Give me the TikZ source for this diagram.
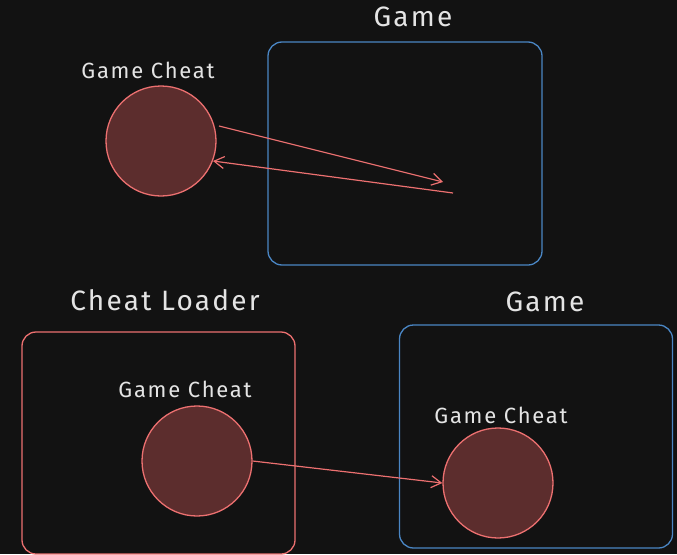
\documentclass[tikz,border=0pt]{standalone}
\usepackage{fontspec}
\setmainfont{Fira Sans}
\newfontfamily\labelfont[LetterSpace=8]{Fira Sans}
\usetikzlibrary{arrows.meta}
\definecolor{bgdark}{RGB}{18,18,18}
\definecolor{boxblue}{RGB}{74,134,196}
\definecolor{cheatred}{RGB}{236,112,112}
\definecolor{cheatfill}{RGB}{92,45,45}
\definecolor{labelgrey}{RGB}{228,228,228}
\tikzset{
  region/.style={draw, line width=1.3pt, rounded corners=14pt},
  gamebox/.style={region, draw=boxblue},
  loaderbox/.style={region, draw=cheatred},
  cheat/.style={circle, draw=cheatred, fill=cheatfill, line width=1.3pt,
    minimum size=110pt, inner sep=0pt},
  label/.style={text=labelgrey, font=\labelfont\fontsize{22}{24}\selectfont, inner sep=0pt},
  biglabel/.style={text=labelgrey, font=\labelfont\fontsize{28}{30}\selectfont, inner sep=0pt},
  flow/.style={draw=cheatred, line width=1.2pt,
    -{Straight Barb[length=10pt,width=12pt,line width=1.2pt]}},
}
\begin{document}
\begin{tikzpicture}[x=1pt,y=-1pt]
  \fill[bgdark] (0,0) rectangle (677,554);
  \useasboundingbox (0,0) rectangle (677,554);

  % top: cheat talking to the game from outside
  \node[gamebox, minimum width=274pt, minimum height=223pt] (game1) at (405,153.5) {};
  \node[biglabel] (game1lbl) at (413,17) {Game};
  \node[cheat] (cheat1) at (161,141) {};
  \node[label] (cheat1lbl) at (148,70) {Game Cheat};
  \coordinate (hit1) at (443,182);
  \coordinate (back1) at (453,193);
  \draw[flow] (219,126) -- (hit1);
  \draw[flow] (back1) -- (213,161);

  % bottom: loader injecting the cheat into the game
  \node[loaderbox, minimum width=273pt, minimum height=222pt] (loader) at (158.5,443) {};
  \node[biglabel] (loaderlbl) at (165,300) {Cheat Loader};
  \node[cheat] (cheat2) at (197,461) {};
  \node[label] (cheat2lbl) at (185,389) {Game Cheat};

  \node[gamebox, minimum width=273pt, minimum height=223pt] (game2) at (536,436.5) {};
  \node[biglabel] (game2lbl) at (545,302) {Game};
  \node[cheat] (cheat3) at (498,483) {};
  \node[label] (cheat3lbl) at (501,415) {Game Cheat};

  \draw[flow] (cheat2.east) -- (cheat3.west);
\end{tikzpicture}
\end{document}
